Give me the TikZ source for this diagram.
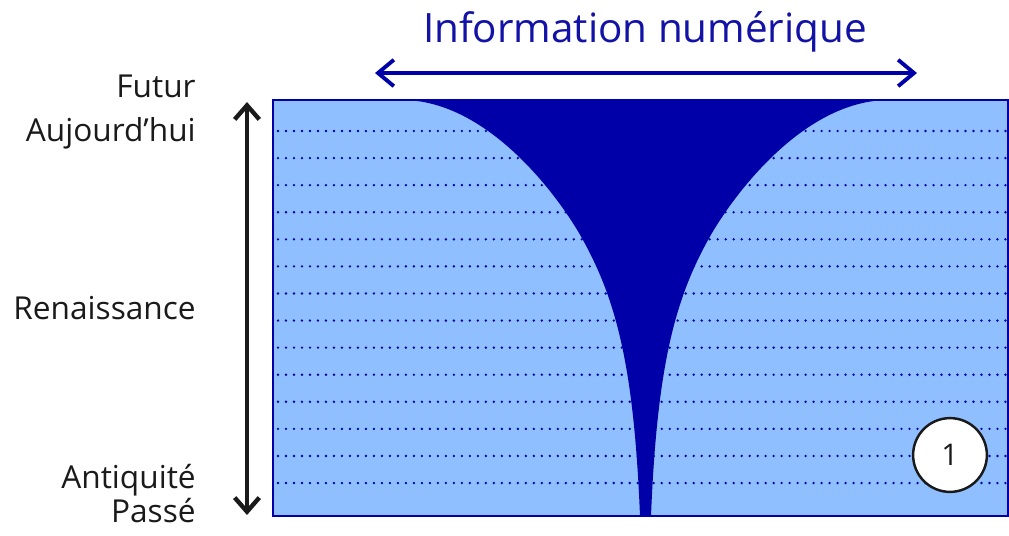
\documentclass[tikz,border=0pt]{standalone}
\usepackage{fontspec}
\setmainfont{Open Sans}
\usetikzlibrary{positioning,arrows.meta,calc}
\definecolor{deepblue}{HTML}{0000A8}
\definecolor{paleblue}{HTML}{8FBFFF}
\definecolor{titleblue}{HTML}{1212A6}
\definecolor{ink}{HTML}{1A1A1A}
\tikzset{
  era/.style={anchor=base east, inner sep=0pt, text=ink,
    font=\fontsize{18pt}{20pt}\selectfont},
  ttl/.style={anchor=base, inner sep=0pt, text=titleblue,
    font=\fontsize{23pt}{26pt}\selectfont},
  timearr/.style={{Straight Barb[length=8pt,width=14pt]}-{Straight Barb[length=8pt,width=14pt]},
    line width=2.5pt, color=ink},
  spanarr/.style={{Straight Barb[length=9pt,width=15pt]}-{Straight Barb[length=9pt,width=15pt]},
    line width=2.2pt, color=deepblue},
  dotrow/.style={deepblue, line width=1.5pt, line cap=round, dash pattern=on 0pt off 4.55pt},
  badge/.style={circle, draw=ink, line width=1.4pt, fill=white, minimum size=42pt,
    inner sep=0pt, text=ink, font=\fontsize{17pt}{20pt}\selectfont},
}

\begin{document}
\begin{tikzpicture}[x=0.02cm, y=-0.02cm]
    \useasboundingbox (0,0) rectangle (1009,535);
    % time scale
    \fill[paleblue] (273,100) rectangle (1008,516);
    \foreach \i in {0,...,13}
      \draw[dotrow] (278,{131+27.08*\i}) -- (1006,{131+27.08*\i});
    \fill[deepblue] (402,100) .. controls (487,100) and (558.25,195) .. (583,240)
      .. controls (616,300) and (634,366) .. (640,516) -- (651,516)
      .. controls (657,366) and (675,300) .. (708,240)
      .. controls (732.75,195) and (804,100) .. (889,100) -- cycle;
    \draw[deepblue, line width=1.2pt] (273,100) rectangle (1008,516);
    \node[badge] (one) at (950,455) {1};
    % labels
    \node[ttl] (info) at (645,42) {Information numérique};
    \node[era] (futur) at (196,97) {Futur};
    \node[era] (today) at (196,141) {Aujourd’hui};
    \node[era] (renais) at (196,319) {Renaissance};
    \node[era] (antiq) at (196,488) {Antiquité};
    \node[era] (passe) at (196,522) {Passé};
    % arrows
    \coordinate (now) at (247,102);
    \coordinate (past) at (247,515);
    \draw[timearr] (past) -- (now);
    \coordinate (lo) at (375,73);
    \coordinate (hi) at (917,73);
    \draw[spanarr] (lo) -- (hi);
  \end{tikzpicture}
\end{document}
